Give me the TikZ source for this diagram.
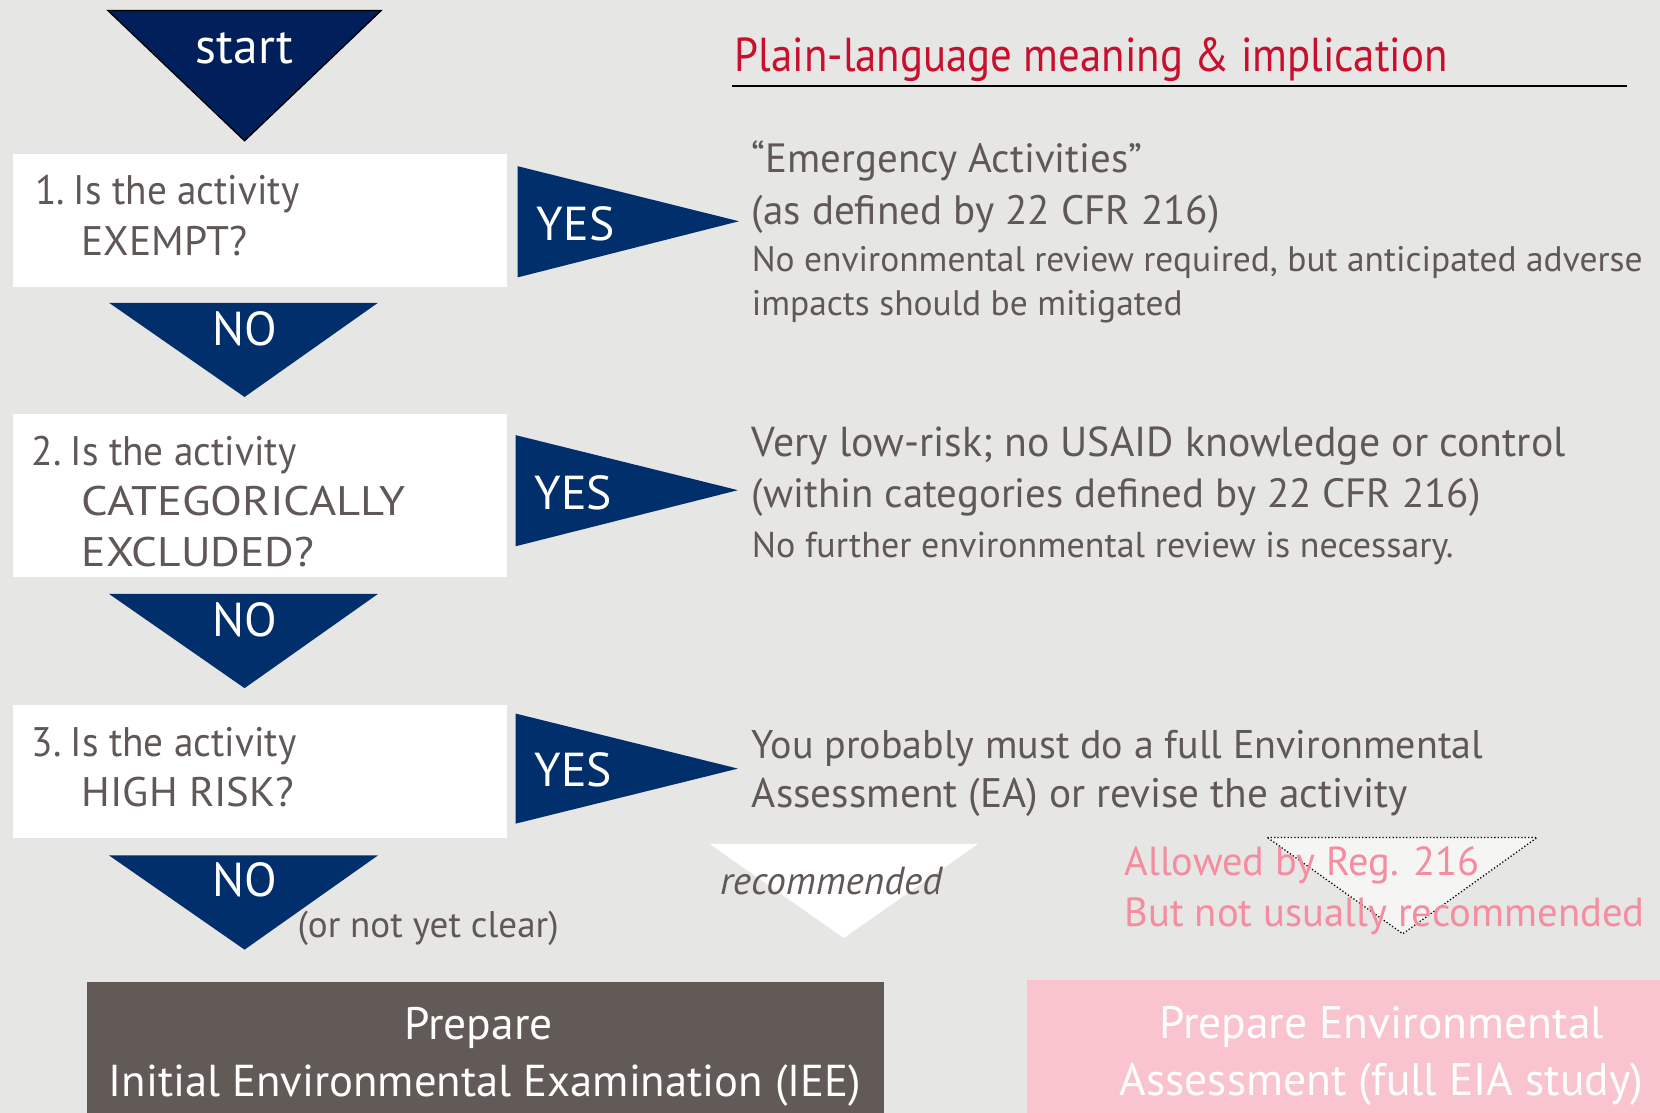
\documentclass[tikz,border=0pt]{standalone}
\usepackage{fontspec}
\setmainfont{PT Sans}
\definecolor{bg}{RGB}{230,230,228}
\definecolor{navyA}{RGB}{0,31,91}
\definecolor{navyB}{RGB}{0,47,108}
\definecolor{tgray}{RGB}{95,88,86}
\definecolor{hred}{RGB}{200,16,46}
\definecolor{ptext}{RGB}{245,140,160}
\definecolor{pbox}{RGB}{249,196,206}
\definecolor{dbox}{RGB}{98,90,87}
\newcommand{\fs}[1]{\fontsize{#1}{#1}\selectfont}
\newcommand{\wide}[1]{\addfontfeature{FakeStretch=#1}}
\begin{document}
\begin{tikzpicture}[x=1pt,y=-1pt,
  txt/.style={text=tgray, inner sep=0pt, anchor=base west},
  wtxt/.style={text=white, inner sep=0pt, anchor=base},
  qbox/.style={fill=white},
  navytri/.style={fill=navyB},
  smallf/.style={font=\fs{33.5}},
  qf/.style={font=\fs{39}},
  yesf/.style={font=\fs{45}}]
\fill[bg] (0,0) rectangle (1568,1051);
\useasboundingbox (0,0) rectangle (1568,1051);

% start
\draw[fill=navyA, draw=black, line width=1.2pt] (102,10) -- (360,10) -- (231,133) -- cycle;
\node[wtxt, font=\fs{47}] (start) at (231,60) {start};

% header
\node[txt, text=hred, font=\fs{45}\wide{0.9}] (head) at (694,68) {Plain-language meaning \& implication};
\coordinate (hl) at (691,81);
\coordinate (hr) at (1537,81);
\draw[line width=2pt] (hl) -- (hr);

% boxes
\fill[qbox] (12,145) rectangle (479,271);
\node[txt, qf] (q1a) at (33,193) {\wide{0.95}1.\hspace{0.22em}Is the activity};
\node[txt, qf] (q1b) at (77,241) {EXEMPT?};

\fill[qbox] (12,391) rectangle (479,545);
\node[txt, qf] (q2a) at (30,440) {\wide{0.95}2.\hspace{0.22em}Is the activity};
\node[txt, qf] (q2b) at (77,487) {\wide{1.13}CATEGORICALLY};
\node[txt, qf] (q2c) at (77,535) {\wide{1.1}EXCLUDED?};

\fill[qbox] (12,666) rectangle (479,792);
\node[txt, qf] (q3a) at (30,715) {\wide{0.95}3.\hspace{0.22em}Is the activity};
\node[txt, qf] (q3b) at (77,762) {\wide{1.035}HIGH RISK?};

% YES arrows
\fill[navytri] (489,157) -- (698,209) -- (489,262) -- cycle;
\node[wtxt, yesf, anchor=base west] (y1) at (507,227) {YES};
\fill[navytri] (487,411) -- (697,463) -- (487,516) -- cycle;
\node[wtxt, yesf, anchor=base west] (y2) at (505,481) {YES};
\fill[navytri] (487,674) -- (697,726) -- (487,778) -- cycle;
\node[wtxt, yesf, anchor=base west] (y3) at (505,743) {YES};

% NO arrows
\fill[navytri] (103,286) -- (357,286) -- (231,375) -- cycle;
\node[wtxt, yesf] (n1) at (231,326) {NO};
\fill[navytri] (103,561) -- (357,561) -- (231,650) -- cycle;
\node[wtxt, yesf] (n2) at (231,601) {NO};
\fill[navytri] (103,808) -- (357,808) -- (231,897) -- cycle;
\node[wtxt, yesf] (n3) at (231,847) {NO};
\node[txt, font=\fs{35}] (nyc) at (281,886) {(or not yet clear)};

% right texts
\node[txt, font=\fs{38.6}] (r1a) at (710,163) {“Emergency Activities”};
\node[txt, font=\fs{38.8}] (r1b) at (710,212) {(as defined by 22 CFR 216)};
\node[txt, smallf] (r1c) at (710,256) {No environmental review required, but anticipated adverse};
\node[txt, smallf] (r1d) at (710,298) {impacts should be mitigated};

\node[txt, font=\fs{39.5}] (r2a) at (710,431) {Very low-risk; no USAID knowledge or control};
\node[txt, font=\fs{38.6}] (r2b) at (710,479) {(within categories defined by 22 CFR 216)};
\node[txt, font=\fs{34}] (r2c) at (710,527) {No further environmental review is necessary.};

\node[txt, font=\fs{37.8}] (r3a) at (710,716) {You probably must do a full Environmental};
\node[txt, font=\fs{39}] (r3b) at (710,763) {Assessment (EA) or revise the activity};

% recommended
\fill[white] (670,797) -- (924,797) -- (797,886) -- cycle;
\node[txt, font=\fs{37}\itshape] (rec) at (680,845) {recommended};

% dotted triangle
\draw[fill=white!60!bg, dotted, line width=1.2pt] (1197,791) -- (1452,791) -- (1325,882) -- cycle;
\node[txt, text=ptext, font=\fs{38.2}] (al1) at (1062,827) {Allowed by Reg. 216};
\node[txt, text=ptext, font=\fs{38.4}] (al2) at (1062,875) {But not usually recommended};

% bottom boxes
\fill[dbox] (82,928) rectangle (835,1051);
\node[wtxt, font=\fs{43}] (iee1) at (452,982) {Prepare};
\node[wtxt, font=\fs{42.2}] (iee2) at (458,1036) {Initial Environmental Examination (IEE)};

\fill[pbox] (970,926) rectangle (1568,1051);
\node[wtxt, font=\fs{43}] (ea1) at (1305,981) {Prepare Environmental};
\node[wtxt, font=\fs{43}] (ea2) at (1305,1035) {Assessment (full EIA study)};
\end{tikzpicture}
\end{document}
